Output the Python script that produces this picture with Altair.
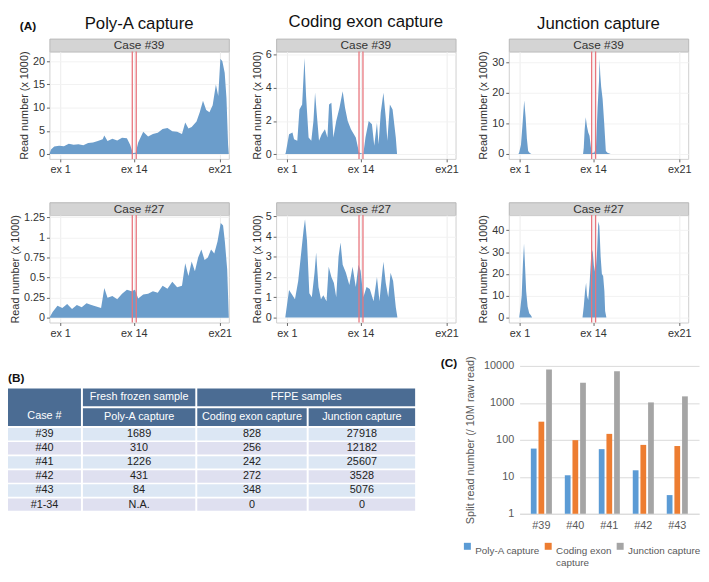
import altair as alt
import pandas as pd

FONT = "Liberation Sans"
AREA_COLOR = "#6b9dcb"
RED = "#e8757d"
HDR = "#4b6c93"
ROW_COLORS = ["#dce7f4", "#dfe0f0"]

# ---------------- (A) coverage panels ----------------
COLUMN_TITLES = ["Poly-A capture", "Coding exon capture", "Junction capture"]
CASE_TOP = "Case #39"
CASE_BOTTOM = "Case #27"
EXON_TICKS = [6, 47, 95]
EXON_LABELS = ["ex 1", "ex 14", "ex21"]
RED_LINES = [46.2, 48.4]

PA39_POS = [0, 0.9, 2.7, 5.4, 8.1, 10.8, 13.5, 16.2, 18.9, 21.6, 24.3, 27.0, 29.7, 30.6, 32.4,
            35.1, 37.8, 40.5, 43.2, 45.0, 46.5, 48.1, 49.5, 52.3, 55.0, 57.7, 60.4, 63.1, 65.8,
            68.5, 71.2, 73.9, 75.7, 77.5, 79.3, 82.0, 83.8, 85.6, 87.4, 89.2, 91.0, 92.8, 94.1,
            95.3, 96.4, 97.7, 98.7, 99.6, 100]
PA39_VAL = [0, 1.0, 1.6, 1.8, 1.7, 2.2, 2.0, 2.1, 1.9, 2.4, 2.5, 2.8, 3.2, 4.0, 2.8,
            3.3, 2.9, 3.5, 3.4, 2.0, 0.2, 0.3, 2.5, 4.8, 3.8, 4.3, 4.6, 5.4, 5.6,
            4.9, 4.8, 4.3, 6.8, 5.5, 5.8, 7.0, 9.0, 11.5, 9.5, 9.0, 10.5, 15.0, 12.5,
            20.5, 20.0, 17.5, 12.0, 2.0, 0]

PA27_POS = [0, 1.8, 4.5, 7.2, 9.9, 12.6, 15.3, 18.0, 20.7, 23.4, 26.1, 28.8, 30.6, 32.4, 35.1,
            37.8, 40.5, 43.2, 45.9, 47.7, 49.5, 52.3, 55.0, 57.7, 60.4, 63.1, 65.8, 68.5, 71.2,
            73.9, 75.7, 77.5, 79.3, 81.1, 82.9, 84.7, 86.5, 88.3, 90.1, 91.9, 93.7, 95.5, 96.8,
            97.8, 99.1, 100]
PA27_VAL = [0, 0.07, 0.15, 0.12, 0.17, 0.11, 0.16, 0.13, 0.18, 0.16, 0.14, 0.12, 0.37, 0.25, 0.27,
            0.23, 0.30, 0.35, 0.33, 0.35, 0.24, 0.29, 0.30, 0.33, 0.31, 0.40, 0.36, 0.45, 0.38,
            0.40, 0.68, 0.52, 0.70, 0.58, 0.75, 0.85, 0.72, 0.75, 0.85, 0.80, 0.95, 1.18, 1.15,
            0.95, 0.6, 0]

CE39_POS = [0, 5.1, 5.4, 7.2, 9.1, 10.0, 11.8, 13.0, 14.5, 15.8, 16.7, 18.1, 19.6, 20.8, 21.7,
            22.6, 23.9, 25.4, 27.2, 28.6, 29.5, 30.8, 31.9, 33.5, 35.3, 37.1, 38.4, 39.9, 41.7,
            44.4, 46.2, 48.6, 49.8, 51.6, 53.4, 54.7, 56.2, 57.1, 58.3, 59.8, 61.1, 62.0, 63.4,
            64.9, 66.7, 67.4, 100]
CE39_VAL = [0, 0, 0.1, 1.2, 1.3, 0.9, 0.8, 2.7, 3.0, 5.8, 3.5, 1.0, 0.8, 2.0, 3.7,
            2.5, 0.8, 1.2, 1.5, 1.0, 3.0, 3.1, 1.0, 2.0, 2.8, 3.8, 2.8, 2.0, 1.5,
            1.0, 0.1, 0.0, 1.0, 2.0, 1.8, 0.5, 1.9, 0.6, 2.5, 3.7, 2.2, 0.8, 3.0,
            2.7, 1.0, 0, 0]

CE27_POS = [0, 5.1, 7.2, 9.1, 10.5, 12.3, 14.1, 15.4, 16.1, 17.2, 18.5, 19.9, 21.4, 22.3, 23.6,
            25.0, 26.3, 28.1, 29.3, 30.8, 32.2, 33.5, 34.8, 35.9, 37.1, 38.9, 40.8, 42.6, 44.4,
            45.9, 47.1, 48.6, 50.4, 52.2, 54.3, 56.2, 57.6, 58.9, 59.8, 61.1, 62.5, 63.8, 65.2,
            66.7, 67.6, 100]
CE27_VAL = [0, 0, 1.35, 1.1, 0.9, 1.8, 3.3, 4.4, 4.85, 3.8, 1.2, 1.0, 2.2, 3.2, 1.5,
            0.9, 1.1, 0.8, 2.5, 2.0, 1.7, 1.0, 3.0, 3.7, 2.6, 2.2, 1.6, 2.5, 1.5,
            2.6, 2.3, 1.0, 1.5, 1.4, 0.8, 2.0, 0.8, 2.0, 2.75, 1.7, 1.0, 2.2, 1.8,
            0.5, 0, 0]

JC39_POS = [0, 5.4, 5.8, 6.8, 7.7, 8.6, 9.4, 10.1, 10.8, 11.7, 12.6, 41.4, 41.8, 42.3, 42.9,
            43.6, 44.3, 45.0, 45.8, 46.5, 47.7, 48.6, 49.5, 50.3, 50.6, 51.0, 51.5, 52.3, 53.2,
            54.1, 55.0, 56.8, 100]
JC39_VAL = [0, 0, 0.5, 3, 10, 17.5, 12, 5, 1, 0.3, 0, 0, 2, 8, 12,
            9, 7, 6, 2, 0.3, 0.5, 2, 15, 24, 31, 26, 22, 18, 10,
            1, 0.4, 0, 0]

JC27_POS = [0, 5.8, 6.3, 7.2, 7.9, 8.5, 9.0, 9.7, 10.5, 11.4, 12.3, 13.0, 41.1, 41.8, 42.5,
            43.1, 43.6, 44.3, 45.0, 45.9, 46.7, 47.4, 48.3, 49.2, 49.9, 50.5, 51.2, 51.9, 52.6,
            53.3, 53.7, 54.4, 100]
JC27_VAL = [0, 0, 3, 10, 25, 34, 25, 12, 5, 2, 1, 0, 0, 5, 12,
            16, 10, 8, 15, 28, 31, 24, 20, 30, 44, 42, 28, 20, 19,
            12, 3, 0, 0]

PA39_DOMAIN, PA39_TICKS = [-1.05, 22.1], [0, 5, 10, 15, 20]
PA27_DOMAIN, PA27_TICKS = [-0.06, 1.28], [0, 0.25, 0.5, 0.75, 1, 1.25]
CE39_DOMAIN, CE39_TICKS = [-0.29, 6.2], [0, 2, 4, 6]
CE27_DOMAIN, CE27_TICKS = [-0.25, 5.05], [0, 1, 2, 3, 4, 5]
JC39_DOMAIN, JC39_TICKS = [-1.6, 33.5], [0, 10, 20, 30]
JC27_DOMAIN, JC27_TICKS = [-2.3, 47.0], [0, 10, 20, 30, 40]

# ---------------- (B) table ----------------
T_HEAD_TOP = ["", "Fresh frozen sample", "FFPE samples"]
T_HEAD = ["Case #", "Poly-A capture", "Coding exon capture", "Junction capture"]
T_CASES = ["#39", "#40", "#41", "#42", "#43", "#1-34"]
T_POLYA = ["1689", "310", "1226", "431", "84", "N.A."]
T_CODING = ["828", "256", "242", "272", "348", "0"]
T_JUNCTION = ["27918", "12182", "25607", "3528", "5076", "0"]

# ---------------- (C) bar chart ----------------
BAR_CASES = ["#39", "#40", "#41", "#42", "#43"]
BAR_SERIES = ["Poly-A capture", "Coding exon capture", "Junction capture"]
BAR_COLORS = ["#5b9bd5", "#ed7d31", "#a5a5a5"]
BAR_POLYA = [58, 11, 56, 15, 3.2]
BAR_CODING = [310, 98, 145, 73, 68]
BAR_JUNCTION = [8000, 3500, 7200, 1030, 1500]
BAR_TICKS = [1, 10, 100, 1000, 10000]

PW, PH, SH = 182, 109, 13


def blank():
    return alt.Chart(pd.DataFrame({"t": [""]})).mark_text().encode(
        text="t:N").properties(width=1, height=1)


def exon_expr():
    s = ""
    for p, lab in zip(EXON_TICKS, EXON_LABELS):
        s += f"datum.value == {p} ? '{lab}' : "
    return s + "''"


def panel(pos, vals, ydom, yticks, title=None):
    df = pd.DataFrame({"pos": pos, "reads": vals})
    x = alt.X("pos:Q", scale=alt.Scale(domain=[0, 100], nice=False, zero=False),
              axis=alt.Axis(values=EXON_TICKS, labelExpr=exon_expr(), title=None, grid=True,
                            gridColor="#ececec", tickColor="#666", tickSize=3, domain=False,
                            labelFontSize=11, labelColor="#333", labelPadding=2, labelFlush=False))
    y = alt.Y("reads:Q", scale=alt.Scale(domain=ydom, nice=False, zero=False),
              axis=alt.Axis(values=yticks, format=".2~f", title="Read number (x 1000)",
                            titleFontSize=11, titleFontWeight="normal", titleColor="#333",
                            titlePadding=3, grid=True, gridColor="#f2f2f2", tickColor="#666",
                            tickSize=3, domain=False, labelFontSize=11, labelColor="#333",
                            labelPadding=2))
    area = alt.Chart(df).mark_area(color=AREA_COLOR, opacity=1).encode(x=x, y=y, y2=alt.datum(0))
    rules = alt.Chart(pd.DataFrame({"pos": RED_LINES})).mark_rule(
        color=RED, strokeWidth=1.3).encode(x="pos:Q")
    props = dict(width=PW, height=PH, view=alt.ViewBackground(stroke="#cfcfcf", strokeWidth=1))
    if title:
        props["title"] = alt.TitleParams(title, fontSize=17, fontWeight="normal", anchor="middle",
                                         frame="group", offset=SH + 5, color="#111")
    return alt.layer(area, rules).properties(**props)


def strip(label, tag=None):
    props = dict(width=PW, height=SH,
                 view=alt.ViewBackground(fill="#d4d4d4", stroke="#b8b8b8", strokeWidth=1))
    if tag:
        props["title"] = alt.TitleParams(tag, orient="top", anchor="start", frame="group",
                                         align="left", dx=-30, offset=6, fontSize=12,
                                         fontWeight="bold", color="#111")
    return alt.Chart(pd.DataFrame({"case": [label]})).mark_text(
        fontSize=12, color="#333").encode(text="case:N").properties(**props)


def column(title, top_data, bottom_data, tag=None):
    b1 = alt.vconcat(strip(CASE_TOP, tag), panel(*top_data, title=title), spacing=0, bounds="flush")
    b2 = alt.vconcat(strip(CASE_BOTTOM), panel(*bottom_data), spacing=0, bounds="flush")
    return alt.vconcat(b1, b2, spacing=26)


col1 = column(COLUMN_TITLES[0], (PA39_POS, PA39_VAL, PA39_DOMAIN, PA39_TICKS),
              (PA27_POS, PA27_VAL, PA27_DOMAIN, PA27_TICKS), tag="(A)")
col2 = column(COLUMN_TITLES[1], (CE39_POS, CE39_VAL, CE39_DOMAIN, CE39_TICKS),
              (CE27_POS, CE27_VAL, CE27_DOMAIN, CE27_TICKS))
col3 = column(COLUMN_TITLES[2], (JC39_POS, JC39_VAL, JC39_DOMAIN, JC39_TICKS),
              (JC27_POS, JC27_VAL, JC27_DOMAIN, JC27_TICKS))

top_row = alt.hconcat(blank(), alt.hconcat(col1, col2, col3, spacing=18), spacing=0)


# ---------------- table ----------------
def hdr_cell(text, w, h, dy=0):
    return alt.Chart(pd.DataFrame({"t": [text]})).mark_text(
        color="white", fontSize=11, dy=dy).encode(text="t:N").properties(
        width=w, height=h, view=alt.ViewBackground(fill=HDR))


def body_col(values, w):
    df = pd.DataFrame({"case": T_CASES, "val": values,
                       "shade": [i % 2 for i in range(len(T_CASES))]})
    y = alt.Y("case:N", sort=T_CASES, axis=None,
              scale=alt.Scale(paddingInner=0.12, paddingOuter=0.0))
    rect_a = alt.Chart(df).transform_filter("datum.shade == 0").mark_rect(
        color=ROW_COLORS[0]).encode(y=y)
    rect_b = alt.Chart(df).transform_filter("datum.shade == 1").mark_rect(
        color=ROW_COLORS[1]).encode(y=y)
    text = alt.Chart(df).mark_text(fontSize=11, color="#222").encode(y=y, text="val:N")
    return alt.layer(rect_a, rect_b, text).properties(width=w, height=84)


CW = [74, 114, 111, 108]
case_hdr = hdr_cell(T_HEAD[0], CW[0], 38, dy=9)
poly_hdr = alt.vconcat(hdr_cell(T_HEAD_TOP[1], CW[1], 18), hdr_cell(T_HEAD[1], CW[1], 18), spacing=2)
ffpe_hdr = alt.vconcat(hdr_cell(T_HEAD_TOP[2], CW[2] + CW[3] + 2, 18),
                       alt.hconcat(hdr_cell(T_HEAD[2], CW[2], 18), hdr_cell(T_HEAD[3], CW[3], 18), spacing=2),
                       spacing=2)
header = alt.hconcat(case_hdr, poly_hdr, ffpe_hdr, spacing=2)
body = alt.hconcat(body_col(T_CASES, CW[0]), body_col(T_POLYA, CW[1]),
                   body_col(T_CODING, CW[2]), body_col(T_JUNCTION, CW[3]), spacing=2)
table = alt.vconcat(header, body, spacing=2, title=alt.TitleParams(
    "(B)", anchor="start", fontSize=12, fontWeight="bold", offset=4, color="#111"))
table_block = alt.vconcat(blank(), table, spacing=0)

# ---------------- bar chart ----------------
rows = []
for i, c in enumerate(BAR_CASES):
    rows.append({"case": c, "series": BAR_SERIES[0], "value": BAR_POLYA[i]})
    rows.append({"case": c, "series": BAR_SERIES[1], "value": BAR_CODING[i]})
    rows.append({"case": c, "series": BAR_SERIES[2], "value": BAR_JUNCTION[i]})
bar_df = pd.DataFrame(rows)

BH = 150
bar = alt.Chart(bar_df).mark_bar().encode(
    x=alt.X("case:N", sort=BAR_CASES, scale=alt.Scale(paddingInner=0.38, paddingOuter=0.33),
            axis=alt.Axis(title=None, labelAngle=0, ticks=False, domainColor="#d9d9d9",
                          labelFontSize=11, labelColor="#595959", labelPadding=6)),
    xOffset=alt.XOffset("series:N", sort=BAR_SERIES, scale=alt.Scale(paddingInner=0.25)),
    y=alt.Y("value:Q", scale=alt.Scale(type="log", domain=[1, 10000], nice=False),
            axis=alt.Axis(values=BAR_TICKS, format="d", title="Split read number (/ 10M raw read)",
                          titleFontSize=11, titleFontWeight="normal", titleColor="#595959",
                          titlePadding=8, grid=True, gridColor="#d9d9d9", domain=False,
                          ticks=False, labelFontSize=11, labelColor="#595959", labelPadding=6)),
    y2=alt.datum(1),
    color=alt.Color("series:N", sort=BAR_SERIES,
                    scale=alt.Scale(domain=BAR_SERIES, range=BAR_COLORS),
                    legend=alt.Legend(title=None, orient="none", direction="horizontal",
                                      legendX=-58, legendY=BH + 28, symbolType="square",
                                      symbolSize=50, labelFontSize=10, labelColor="#595959",
                                      columnPadding=3, labelOffset=3, labelBaseline="top",
                                      labelExpr="datum.label == 'Coding exon capture' ? ['Coding exon', 'capture'] : [datum.label, ' ']")),
).properties(width=182, height=BH, title=alt.TitleParams(
    "(C)", anchor="start", fontSize=12, fontWeight="bold", offset=-14, dx=-22, color="#111"))

bottom_row = alt.hconcat(table_block, bar, spacing=26).resolve_scale(
    color="independent").resolve_legend(color="independent")

chart = alt.vconcat(top_row, bottom_row, spacing=16).resolve_scale(
    color="independent").resolve_legend(color="independent").properties(padding=0).configure(
    font=FONT).configure_view(stroke=None)

chart.save("out.html", embed_options={"renderer": "svg", "actions": False})
